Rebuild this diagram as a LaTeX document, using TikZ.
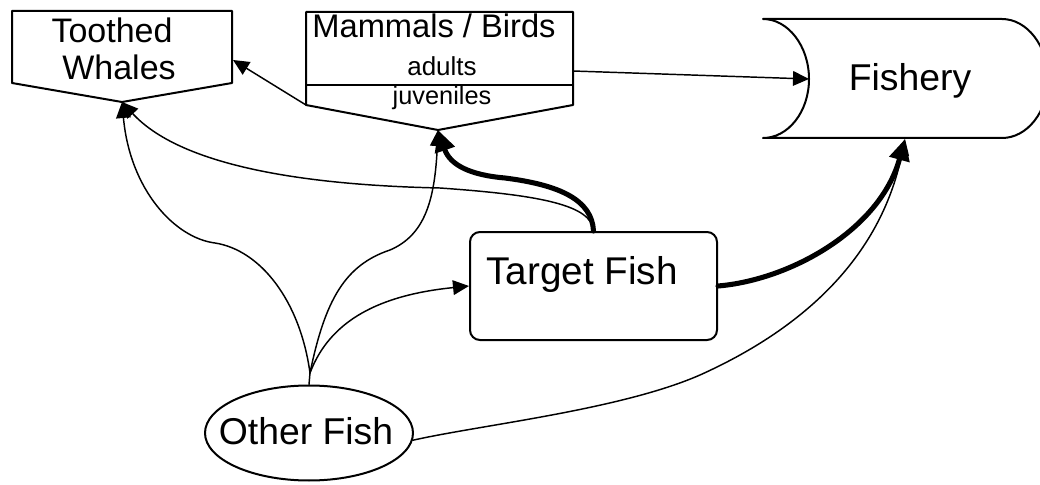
\documentclass[tikz,border=0pt]{standalone}
\usepackage{fontspec}
\setmainfont{Liberation Sans}
\usetikzlibrary{arrows.meta,shapes.geometric}
\begin{document}
\begin{tikzpicture}[x=0.75pt,y=-0.75pt,line cap=round,line join=round,
  outline/.style={line width=1.5pt},
  thinlink/.style={line width=1.1pt,-{Triangle[length=12pt,width=11pt]}},
  thicklink/.style={line width=3.8pt,-{Triangle[length=16pt,width=15pt]}},
  bigtext/.style={font=\fontsize{28}{32}\selectfont,inner sep=0pt},
  midtext/.style={font=\fontsize{25.5}{30}\selectfont,inner sep=0pt,anchor=base},
  smalltext/.style={font=\fontsize{19.5}{23}\selectfont,inner sep=0pt,anchor=base}]
\useasboundingbox (0,0) rectangle (1040,485);
\draw [outline] (12,11) -- (232,11) -- (232,83) -- (122,102) coordinate (tw-tip) -- (12,83) -- cycle;
\coordinate (tw-e) at (233,60);
\node [midtext] (tw1) at (112,43) {Toothed};
\node [midtext] (tw2) at (119,80) {Whales};
\draw [outline] (306,12) -- (573,12) -- (573,105) -- (438,130) coordinate (mb-tip) -- (306,105) coordinate (mb-sw) -- cycle;
\draw [outline] (306,85) -- (573,85);
\coordinate (mb-e) at (573,71);
\node [midtext,font=\fontsize{24.5}{29}\selectfont] (mb1) at (434,38) {Mammals / Birds};
\node [smalltext] (mb2) at (442,76) {adults};
\node [smalltext,font=\fontsize{19}{23}\selectfont] (mb3) at (442,104) {juveniles};
\draw [outline] (763,19) -- (1002,19) .. controls (1027,19) and (1048,46) .. (1048,79) .. controls (1048,112) and (1027,138) .. (1002,138) -- (763,138) .. controls (788,138) and (809,112) .. (809,79) coordinate (fy-w) .. controls (809,46) and (788,19) .. cycle;
\coordinate (fy-s) at (905,139);
\node [bigtext] (fy) at (910,81) {Fishery};
\node [draw,outline,rounded corners=7.5pt,minimum width=185.25pt,minimum height=81pt] (tf) at (593.5,286) {};
\node [bigtext,font=\fontsize{29}{33}\selectfont] (tf-text) at (582,275) {Target Fish};
\node [draw,outline,ellipse,minimum width=156pt,minimum height=71.25pt,inner sep=0pt] (of) at (309,433) {};
\node [bigtext] (of-text) at (306,431) {Other Fish};
\coordinate (fan) at (310,373);
\draw [line width=1.1pt] (of.north) -- (fan);
\draw [thinlink] (mb-sw) -- (tw-e);
\draw [thinlink] (mb-e) -- (fy-w);
\draw [thinlink] (tf.north) .. controls (592,205) and (540,195) .. (440,188) .. controls (300,185) and (180,165) .. (tw-tip);
\draw [thinlink] (fan) .. controls (300,300) and (260,250) .. (215,243) .. controls (175,238) and (130,190) .. (tw-tip);
\draw [thinlink] (fan) .. controls (325,300) and (345,265) .. (390,250) .. controls (425,235) and (435,200) .. (mb-tip);
\draw [thinlink] (fan) .. controls (330,320) and (380,295) .. (tf.west);
\draw [thinlink] (of.-4) .. controls (480,425) and (620,410) .. (700,375) .. controls (800,330) and (880,260) .. (fy-s);
\draw [thicklink] (tf.north) .. controls (592,200) and (560,185) .. (505,178) .. controls (470,175) and (450,165) .. (mb-tip);
\draw [thicklink] (tf.east) .. controls (790,280) and (880,230) .. (fy-s);
\end{tikzpicture}
\end{document}
